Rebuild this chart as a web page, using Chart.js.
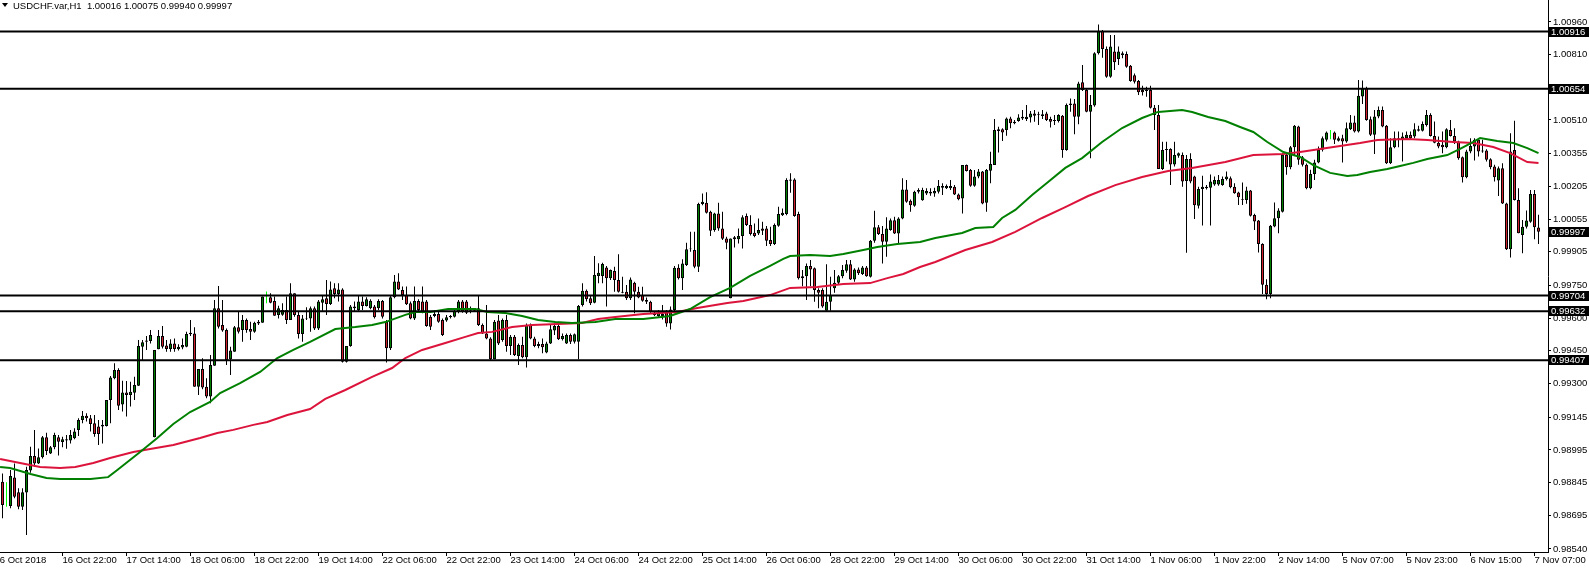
<!DOCTYPE html>
<html>
<head>
<meta charset="utf-8">
<title>USDCHF.var,H1</title>
<script src="https://cdn.jsdelivr.net/npm/chart.js@4.4.0/dist/chart.umd.min.js"></script>
<style>
  html, body { margin: 0; padding: 0; background: #fff; overflow: hidden; }
  #wrap { position: absolute; left: -6px; top: 0; width: 1595px; height: 569px; }
</style>
</head>
<body>
<div id="wrap"><canvas id="chart" width="1595" height="569"></canvas></div>
<script>
(function () {
	'use strict';

	var FONT = "'Liberation Sans', Arial, sans-serif";
	var SHIFT = 6; // canvas starts 6px left of the page

	var symbolInfo = 'USDCHF.var,H1  1.00016 1.00075 0.99940 0.99997';

	// hourly candles, 16 Oct 07:00 .. 7 Nov 08:00
	var opens = [
		0.98849,0.98742,0.98737,0.98868,0.98800,0.98734,0.98799,0.98900,0.98967,0.98933,
		0.98961,0.99053,0.98979,0.99007,0.99053,0.99031,0.99038,0.99038,0.99048,0.99086,
		0.99132,0.99152,0.99140,0.99117,0.99102,0.99102,0.99105,0.99224,0.99324,0.99362,
		0.99204,0.99259,0.99247,0.99258,0.99290,0.99469,0.99492,0.99495,0.99053,0.99457,
		0.99518,0.99474,0.99458,0.99484,0.99457,0.99465,0.99469,0.99526,0.99530,0.99285,
		0.99367,0.99285,0.99240,0.99382,0.99645,0.99569,0.99546,0.99411,0.99446,0.99558,
		0.99546,0.99592,0.99550,0.99538,0.99576,0.99579,0.99699,0.99696,0.99679,0.99615,
		0.99616,0.99637,0.99592,0.99714,0.99615,0.99527,0.99598,0.99599,0.99645,0.99553,
		0.99671,0.99691,0.99665,0.99737,0.99711,0.99732,0.99400,0.99472,0.99645,0.99638,
		0.99676,0.99656,0.99645,0.99653,0.99645,0.99679,0.99584,0.99462,0.99696,0.99768,
		0.99729,0.99706,0.99668,0.99599,0.99679,0.99676,0.99676,0.99607,0.99610,0.99619,
		0.99592,0.99589,0.99604,0.99607,0.99630,0.99676,0.99676,0.99634,0.99634,0.99645,
		0.99569,0.99530,0.99507,0.99411,0.99589,0.99500,0.99592,0.99472,0.99515,0.99426,
		0.99477,0.99420,0.99569,0.99507,0.99472,0.99481,0.99442,0.99484,0.99543,0.99564,
		0.99503,0.99484,0.99523,0.99492,0.99492,0.99661,0.99726,0.99691,0.99671,0.99794,
		0.99794,0.99833,0.99783,0.99816,0.99775,0.99721,0.99721,0.99691,0.99763,0.99721,
		0.99706,0.99683,0.99675,0.99614,0.99610,0.99610,0.99630,0.99576,0.99637,0.99832,
		0.99783,0.99844,0.99916,0.99913,0.99836,1.00124,1.00130,1.00089,1.00005,1.00081,
		1.00012,0.99966,0.99691,0.99962,0.99962,0.99977,1.00069,1.00028,0.99992,0.99989,
		1.00012,1.00012,0.99959,0.99940,1.00024,1.00073,1.00078,1.00231,1.00237,1.00078,
		0.99793,0.99793,0.99839,0.99829,0.99729,0.99729,0.99634,0.99675,0.99737,0.99763,
		0.99793,0.99818,0.99848,0.99778,0.99824,0.99803,0.99833,0.99790,0.99956,1.00017,
		0.99986,0.99951,1.00005,1.00050,0.99989,1.00058,1.00191,1.00139,1.00116,1.00181,
		1.00142,1.00173,1.00173,1.00173,1.00181,1.00199,1.00196,1.00196,1.00204,1.00168,
		1.00150,1.00303,1.00280,1.00208,1.00250,1.00273,1.00130,1.00277,1.00303,1.00459,
		1.00467,1.00464,1.00517,1.00502,1.00505,1.00517,1.00514,1.00522,1.00540,1.00536,
		1.00536,1.00540,1.00514,1.00510,1.00505,1.00530,1.00372,1.00579,1.00586,1.00525,
		1.00683,1.00648,1.00548,1.00576,1.00816,1.00919,1.00836,1.00709,1.00824,1.00790,
		1.00808,1.00813,1.00759,1.00716,1.00689,1.00648,1.00643,1.00648,1.00566,1.00533,
		1.00285,1.00372,1.00377,1.00306,1.00346,1.00349,1.00230,1.00331,1.00250,1.00116,
		1.00193,1.00196,1.00199,1.00214,1.00214,1.00211,1.00238,1.00243,1.00204,1.00177,
		1.00143,1.00143,1.00186,1.00074,1.00048,0.99941,0.99753,0.99711,1.00021,1.00059,
		1.00089,1.00350,1.00293,1.00385,1.00480,1.00339,1.00304,1.00197,1.00262,1.00315,
		1.00373,1.00419,1.00442,1.00452,1.00415,1.00426,1.00411,1.00468,1.00498,1.00457,
		1.00618,1.00656,1.00513,1.00442,1.00526,1.00556,1.00483,1.00311,1.00385,1.00419,
		1.00419,1.00426,1.00442,1.00434,1.00461,1.00461,1.00487,1.00533,1.00437,1.00406,
		1.00396,1.00385,1.00464,1.00437,1.00411,1.00339,1.00247,1.00365,1.00388,1.00419,
		1.00365,1.00370,1.00330,1.00296,1.00232,1.00288,1.00127,0.99916,1.00372,1.00143,
		0.99982,1.00020,1.00043,1.00170,1.00016
	];
	var highs = [
		0.98887,0.98846,0.98903,0.98933,0.98819,0.98819,0.98918,0.99010,0.99086,0.99001,
		0.99059,0.99074,0.99013,0.99074,0.99063,0.99056,0.99063,0.99086,0.99094,0.99140,
		0.99174,0.99163,0.99155,0.99155,0.99132,0.99132,0.99224,0.99334,0.99393,0.99370,
		0.99313,0.99311,0.99308,0.99331,0.99500,0.99500,0.99518,0.99546,0.99454,0.99546,
		0.99564,0.99500,0.99503,0.99507,0.99480,0.99507,0.99538,0.99592,0.99558,0.99367,
		0.99416,0.99324,0.99431,0.99683,0.99748,0.99683,0.99553,0.99469,0.99564,0.99630,
		0.99615,0.99599,0.99584,0.99584,0.99592,0.99699,0.99722,0.99714,0.99699,0.99657,
		0.99668,0.99699,0.99760,0.99714,0.99630,0.99615,0.99650,0.99653,0.99653,0.99683,
		0.99706,0.99775,0.99768,0.99760,0.99760,0.99737,0.99472,0.99661,0.99676,0.99706,
		0.99699,0.99696,0.99687,0.99661,0.99687,0.99683,0.99592,0.99706,0.99798,0.99806,
		0.99745,0.99745,0.99676,0.99745,0.99687,0.99745,0.99683,0.99615,0.99638,0.99630,
		0.99599,0.99615,0.99615,0.99645,0.99683,0.99683,0.99683,0.99653,0.99645,0.99706,
		0.99576,0.99661,0.99512,0.99592,0.99615,0.99599,0.99615,0.99523,0.99523,0.99484,
		0.99515,0.99576,0.99576,0.99515,0.99492,0.99507,0.99492,0.99569,0.99576,0.99584,
		0.99530,0.99530,0.99530,0.99530,0.99661,0.99760,0.99732,0.99706,0.99886,0.99852,
		0.99855,0.99840,0.99824,0.99836,0.99893,0.99790,0.99752,0.99787,0.99767,0.99744,
		0.99744,0.99695,0.99680,0.99630,0.99637,0.99660,0.99637,0.99653,0.99839,0.99848,
		0.99870,0.99946,0.99997,0.99997,1.00130,1.00173,1.00178,1.00093,1.00084,1.00130,
		1.00089,0.99974,0.99966,0.99977,1.00012,1.00073,1.00081,1.00073,1.00035,1.00058,
		1.00043,1.00023,1.00020,1.00035,1.00112,1.00104,1.00242,1.00265,1.00242,1.00089,
		0.99821,0.99851,0.99867,0.99833,0.99737,0.99737,0.99848,0.99790,0.99821,0.99798,
		0.99844,0.99867,0.99867,0.99829,0.99833,0.99839,0.99839,0.99959,1.00093,1.00028,
		1.00023,1.00063,1.00058,1.00066,1.00063,1.00242,1.00234,1.00145,1.00185,1.00196,
		1.00199,1.00196,1.00196,1.00199,1.00234,1.00219,1.00214,1.00234,1.00211,1.00173,
		1.00303,1.00306,1.00285,1.00280,1.00285,1.00276,1.00285,1.00364,1.00514,1.00479,
		1.00472,1.00521,1.00525,1.00510,1.00536,1.00556,1.00579,1.00551,1.00556,1.00548,
		1.00556,1.00548,1.00525,1.00533,1.00536,1.00533,1.00586,1.00609,1.00606,1.00686,
		1.00762,1.00652,1.00625,1.00821,1.00949,1.00923,1.00847,1.00900,1.00900,1.00847,
		1.00824,1.00824,1.00762,1.00724,1.00694,1.00667,1.00663,1.00667,1.00579,1.00579,
		1.00410,1.00410,1.00380,1.00410,1.00361,1.00361,1.00349,1.00357,1.00254,1.00204,
		1.00254,1.00211,1.00260,1.00250,1.00257,1.00250,1.00273,1.00250,1.00220,1.00181,
		1.00223,1.00204,1.00189,1.00079,1.00051,0.99944,0.99779,1.00028,1.00131,1.00105,
		1.00357,1.00360,1.00391,1.00487,1.00483,1.00345,1.00310,1.00281,1.00327,1.00388,
		1.00434,1.00457,1.00464,1.00457,1.00434,1.00442,1.00498,1.00533,1.00529,1.00694,
		1.00691,1.00663,1.00526,1.00556,1.00572,1.00572,1.00487,1.00426,1.00457,1.00457,
		1.00452,1.00457,1.00457,1.00495,1.00483,1.00503,1.00556,1.00541,1.00503,1.00434,
		1.00457,1.00472,1.00510,1.00472,1.00415,1.00342,1.00373,1.00426,1.00426,1.00426,
		1.00419,1.00376,1.00334,1.00304,1.00296,1.00311,1.00130,1.00449,1.00507,1.00196,
		1.00051,1.00094,1.00189,1.00189,1.00075
	];
	var lows = [
		0.98681,0.98734,0.98727,0.98773,0.98722,0.98719,0.98604,0.98890,0.98918,0.98930,
		0.98956,0.98972,0.98976,0.98998,0.98969,0.99007,0.99000,0.99025,0.99044,0.99059,
		0.99117,0.99125,0.99079,0.99056,0.99018,0.99025,0.99102,0.99117,0.99319,0.99178,
		0.99171,0.99148,0.99194,0.99224,0.99289,0.99408,0.99454,0.99484,0.99053,0.99457,
		0.99461,0.99446,0.99446,0.99446,0.99451,0.99457,0.99466,0.99518,0.99285,0.99247,
		0.99273,0.99232,0.99209,0.99382,0.99553,0.99538,0.99385,0.99339,0.99446,0.99530,
		0.99492,0.99533,0.99500,0.99533,0.99569,0.99579,0.99668,0.99668,0.99611,0.99599,
		0.99611,0.99573,0.99592,0.99607,0.99507,0.99492,0.99592,0.99538,0.99546,0.99546,
		0.99630,0.99615,0.99661,0.99691,0.99676,0.99396,0.99396,0.99469,0.99630,0.99630,
		0.99638,0.99653,0.99641,0.99599,0.99638,0.99599,0.99396,0.99454,0.99691,0.99729,
		0.99683,0.99661,0.99595,0.99592,0.99630,0.99622,0.99561,0.99546,0.99604,0.99579,
		0.99518,0.99584,0.99599,0.99603,0.99622,0.99625,0.99619,0.99622,0.99630,0.99564,
		0.99527,0.99503,0.99408,0.99411,0.99477,0.99492,0.99446,0.99431,0.99426,0.99385,
		0.99416,0.99374,0.99503,0.99466,0.99462,0.99439,0.99439,0.99481,0.99523,0.99500,
		0.99497,0.99481,0.99481,0.99484,0.99411,0.99653,0.99676,0.99661,0.99668,0.99760,
		0.99760,0.99653,0.99775,0.99721,0.99718,0.99714,0.99683,0.99683,0.99622,0.99691,
		0.99675,0.99665,0.99625,0.99610,0.99607,0.99594,0.99561,0.99548,0.99622,0.99778,
		0.99729,0.99839,0.99905,0.99829,0.99812,1.00119,1.00081,0.99977,0.99997,1.00001,
		0.99959,0.99916,0.99691,0.99925,0.99943,0.99920,1.00023,0.99980,0.99971,0.99982,
		0.99982,0.99931,0.99931,0.99936,1.00020,1.00069,1.00073,1.00176,1.00066,0.99778,
		0.99747,0.99683,0.99747,0.99675,0.99645,0.99648,0.99630,0.99634,0.99717,0.99757,
		0.99783,0.99809,0.99775,0.99767,0.99798,0.99798,0.99790,0.99787,0.99946,0.99982,
		0.99851,0.99882,1.00001,0.99986,0.99943,1.00054,1.00130,1.00089,1.00112,1.00173,
		1.00139,1.00165,1.00162,1.00158,1.00173,1.00165,1.00193,1.00188,1.00165,1.00142,
		1.00081,1.00273,1.00204,1.00204,1.00242,1.00123,1.00089,1.00219,1.00303,1.00361,
		1.00413,1.00438,1.00472,1.00490,1.00502,1.00510,1.00505,1.00499,1.00502,1.00487,
		1.00514,1.00505,1.00475,1.00487,1.00499,1.00337,1.00369,1.00548,1.00444,1.00490,
		1.00643,1.00545,1.00334,1.00571,1.00811,1.00796,1.00704,1.00704,1.00739,1.00762,
		1.00793,1.00750,1.00686,1.00678,1.00625,1.00622,1.00617,1.00563,1.00464,1.00285,
		1.00280,1.00319,1.00211,1.00296,1.00337,1.00204,0.99900,1.00219,1.00055,1.00104,
		1.00025,1.00191,1.00025,1.00208,1.00208,1.00208,1.00232,1.00197,1.00171,1.00120,
		1.00120,1.00125,1.00067,1.00005,0.99901,0.99711,0.99687,0.99691,1.00018,0.99990,
		1.00085,1.00258,1.00284,1.00345,1.00304,1.00296,1.00192,1.00192,1.00235,1.00311,
		1.00365,1.00411,1.00422,1.00400,1.00411,1.00315,1.00406,1.00464,1.00452,1.00452,
		1.00584,1.00507,1.00437,1.00354,1.00518,1.00477,1.00308,1.00308,1.00380,1.00385,
		1.00319,1.00422,1.00422,1.00426,1.00457,1.00457,1.00480,1.00434,1.00403,1.00380,
		1.00357,1.00380,1.00434,1.00400,1.00327,1.00223,1.00243,1.00357,1.00324,1.00342,
		1.00360,1.00319,1.00284,1.00227,1.00161,1.00124,0.99913,0.99879,1.00140,0.99990,
		0.99898,1.00012,1.00038,0.99962,0.99940
	];
	var closes = [
		0.98742,0.98742,0.98875,0.98780,0.98734,0.98800,0.98903,0.98967,0.98933,0.98961,
		0.99053,0.98990,0.99007,0.99063,0.99033,0.99044,0.99044,0.99063,0.99079,0.99132,
		0.99152,0.99140,0.99114,0.99068,0.99068,0.99110,0.99224,0.99327,0.99362,0.99198,
		0.99259,0.99247,0.99262,0.99293,0.99472,0.99489,0.99497,0.99523,0.99454,0.99518,
		0.99469,0.99458,0.99484,0.99458,0.99469,0.99477,0.99527,0.99533,0.99285,0.99367,
		0.99282,0.99240,0.99385,0.99645,0.99561,0.99543,0.99408,0.99451,0.99558,0.99538,
		0.99592,0.99546,0.99538,0.99579,0.99584,0.99699,0.99699,0.99671,0.99611,0.99645,
		0.99637,0.99592,0.99714,0.99615,0.99527,0.99599,0.99601,0.99645,0.99553,0.99676,
		0.99687,0.99665,0.99732,0.99711,0.99732,0.99400,0.99472,0.99653,0.99653,0.99676,
		0.99656,0.99687,0.99680,0.99604,0.99679,0.99607,0.99462,0.99696,0.99768,0.99732,
		0.99706,0.99664,0.99599,0.99679,0.99638,0.99630,0.99564,0.99561,0.99619,0.99584,
		0.99523,0.99604,0.99610,0.99634,0.99676,0.99630,0.99625,0.99641,0.99641,0.99569,
		0.99530,0.99507,0.99411,0.99584,0.99484,0.99592,0.99472,0.99515,0.99431,0.99477,
		0.99420,0.99569,0.99507,0.99472,0.99481,0.99466,0.99484,0.99549,0.99564,0.99503,
		0.99518,0.99523,0.99492,0.99526,0.99656,0.99726,0.99687,0.99668,0.99798,0.99809,
		0.99849,0.99783,0.99821,0.99775,0.99721,0.99717,0.99691,0.99778,0.99721,0.99695,
		0.99680,0.99675,0.99630,0.99625,0.99625,0.99619,0.99576,0.99640,0.99832,0.99783,
		0.99851,0.99916,0.99920,0.99836,1.00124,1.00135,1.00084,1.00001,1.00081,1.00012,
		0.99965,0.99946,0.99966,0.99971,0.99977,1.00063,1.00028,0.99986,0.99977,1.00005,
		1.00001,0.99956,0.99940,1.00028,1.00078,1.00084,1.00234,1.00237,1.00069,0.99783,
		0.99783,0.99839,0.99824,0.99729,0.99717,0.99653,0.99675,0.99706,0.99763,0.99793,
		0.99821,0.99848,0.99778,0.99824,0.99806,0.99833,0.99793,0.99956,1.00017,0.99986,
		0.99951,1.00012,1.00050,0.99989,1.00058,1.00191,1.00135,1.00119,1.00181,1.00188,
		1.00188,1.00184,1.00181,1.00184,1.00207,1.00207,1.00207,1.00207,1.00168,1.00146,
		1.00303,1.00276,1.00208,1.00250,1.00273,1.00127,1.00280,1.00308,1.00464,1.00467,
		1.00453,1.00517,1.00495,1.00495,1.00521,1.00525,1.00525,1.00540,1.00530,1.00533,
		1.00528,1.00510,1.00502,1.00505,1.00533,1.00372,1.00579,1.00586,1.00525,1.00678,
		1.00648,1.00548,1.00579,1.00816,1.00919,1.00836,1.00709,1.00847,1.00775,1.00824,
		1.00816,1.00755,1.00689,1.00686,1.00637,1.00637,1.00648,1.00566,1.00533,1.00285,
		1.00372,1.00377,1.00306,1.00349,1.00357,1.00227,1.00331,1.00227,1.00119,1.00193,
		1.00204,1.00204,1.00227,1.00234,1.00234,1.00239,1.00250,1.00201,1.00174,1.00155,
		1.00146,1.00186,1.00070,1.00044,0.99941,0.99753,0.99711,1.00024,1.00059,1.00094,
		1.00350,1.00293,1.00385,1.00483,1.00327,1.00304,1.00197,1.00262,1.00315,1.00373,
		1.00426,1.00452,1.00442,1.00419,1.00426,1.00411,1.00472,1.00498,1.00457,1.00621,
		1.00656,1.00510,1.00442,1.00526,1.00556,1.00480,1.00311,1.00385,1.00426,1.00426,
		1.00434,1.00442,1.00426,1.00468,1.00468,1.00492,1.00533,1.00437,1.00406,1.00388,
		1.00385,1.00468,1.00437,1.00411,1.00334,1.00247,1.00365,1.00391,1.00419,1.00365,
		1.00370,1.00327,1.00293,1.00247,1.00288,1.00127,0.99916,1.00365,1.00143,0.99990,
		1.00020,1.00048,1.00170,1.00017,0.99997
	];

	// moving averages at bar positions
	var greenMaBar = [-0.6,1.9,7,11,14.4,22,26.4,28.7,34.4,38.7,42.7,46.9,51.9,54.4,59.4,64.4,68.7,72.7,76.9,83.2,
		88.2,92.4,95.7,100.7,103.2,107,111.4,118.2,121.2,125.7,129.9,133.9,138.2,142.4,148.2,153.2,160.2,166.9,171.9,176.9,
		181.9,186.9,191.9,195.2,196.9,201.9,206.9,210.2,215.2,218.7,223.7,229.4,233.2,239.9,243.2,247.7,249.9,253.2,257.4,261.4,
		265.7,269.9,274.9,279.9,284.9,288.9,294.9,297.4,301.4,305.7,309.4,312.7,316.2,320.2,324.4,327.7,331.9,336.2,338.7,341.9,
		346.2,349.4,352.7,356.2,361.2,364.4,367.7,369.4,373.7,377.7,381.2,384];
	var greenMa = [0.98917,0.98912,0.98884,0.98866,0.98861,0.98861,0.98870,0.98903,0.98985,0.99050,0.99114,0.99169,0.99215,0.99256,0.99302,0.99353,0.99417,0.99454,0.99491,0.99550,
		0.99559,0.99569,0.99582,0.99615,0.99628,0.99628,0.99642,0.99642,0.99628,0.99624,0.99610,0.99592,0.99582,0.99578,0.99582,0.99596,0.99596,0.99610,0.99642,0.99697,
		0.99739,0.99794,0.99840,0.99872,0.99885,0.99890,0.99885,0.99895,0.99913,0.99927,0.99941,0.99950,0.99968,0.99991,1.00014,1.00019,1.00060,1.00097,1.00166,1.00225,
		1.00290,1.00335,1.00409,1.00473,1.00519,1.00547,1.00556,1.00547,1.00524,1.00505,1.00478,1.00455,1.00409,1.00363,1.00340,1.00303,1.00267,1.00253,1.00257,1.00271,
		1.00285,1.00299,1.00313,1.00331,1.00349,1.00377,1.00409,1.00427,1.00414,1.00404,1.00381,1.00358];
	var redMaBar = [-0.6,4.4,9.4,14.4,18.2,22.7,26.9,32.7,36.9,42.7,49.4,53.7,57.7,62.7,66.2,71.2,76.9,80.7,85.7,92.4,
		97.4,100.7,104.9,110.7,115.7,118.9,122.4,127.4,132.4,138.9,144.9,148.9,153.2,160.2,168.7,173.7,181.2,185.2,191.9,196.9,
		203.7,210.2,216.9,221.2,225.2,229.4,233.2,240.7,247.4,253.2,259.9,265.7,271.4,278.2,284.9,291.4,297.4,305.7,312.7,320.2,
		324.4,329.4,334.4,339.4,343.7,351.2,356.2,362.7,367.7,372.7,376.9,381.2,384];
	var redMa = [0.98953,0.98935,0.98917,0.98912,0.98917,0.98935,0.98958,0.98985,0.98999,0.99018,0.99050,0.99073,0.99087,0.99110,0.99123,0.99155,0.99183,0.99229,0.99270,0.99330,
		0.99371,0.99417,0.99454,0.99486,0.99514,0.99532,0.99537,0.99559,0.99569,0.99573,0.99578,0.99596,0.99605,0.99619,0.99628,0.99647,0.99670,0.99679,0.99706,0.99739,
		0.99743,0.99757,0.99761,0.99784,0.99803,0.99835,0.99858,0.99913,0.99950,0.99996,1.00060,1.00110,1.00161,1.00211,1.00248,1.00276,1.00290,1.00317,1.00349,1.00354,
		1.00363,1.00377,1.00391,1.00404,1.00418,1.00423,1.00418,1.00409,1.00404,1.00386,1.00358,1.00317,1.00313];

	var levels = [1.00916, 1.00654, 0.99704, 0.99632, 0.99407];
	var lastPrice = 0.99997;

	var yTicks = [1.00960, 1.00810, 1.00660, 1.00510, 1.00355, 1.00205, 1.00055, 0.99905, 0.99750,
		0.99600, 0.99450, 0.99300, 0.99145, 0.98995, 0.98845, 0.98695, 0.98540];
	var xTickBars = [-2, 15, 31, 47, 63, 79, 95, 111, 127, 143, 159, 175, 191, 207, 223, 239, 255, 271, 287,
		303, 319, 335, 351, 367, 383];
	var xTickLabels = ['16 Oct 2018', '16 Oct 22:00', '17 Oct 14:00', '18 Oct 06:00', '18 Oct 22:00', '19 Oct 14:00',
		'22 Oct 06:00', '22 Oct 22:00', '23 Oct 14:00', '24 Oct 06:00', '24 Oct 22:00', '25 Oct 14:00', '26 Oct 06:00',
		'28 Oct 22:00', '29 Oct 14:00', '30 Oct 06:00', '30 Oct 22:00', '31 Oct 14:00', '1 Nov 06:00', '1 Nov 22:00',
		'2 Nov 14:00', '5 Nov 07:00', '5 Nov 23:00', '6 Nov 15:00', '7 Nov 07:00'];

	var xMin = -2.125, xMax = 386.375;
	var yMin = 0.985262, yMax = 1.01061;

	var BULL = '#008000', BEAR = '#d0202e', DOJI = '#00ff00';

	var wicks = [], bodies = [], bodyColors = [], bodyBorders = [], wickColors = [];
	for (var i = 0; i < closes.length; i++) {
		wicks.push({x: i, y: [lows[i], highs[i]]});
		bodies.push({x: i, y: [opens[i], closes[i]]});
		if (closes[i] > opens[i]) {
			bodyColors.push(BULL); bodyBorders.push('#000'); wickColors.push('#000');
		} else if (closes[i] < opens[i]) {
			bodyColors.push(BEAR); bodyBorders.push('#000'); wickColors.push('#000');
		} else {
			bodyColors.push(DOJI); bodyBorders.push(DOJI); wickColors.push(DOJI);
		}
	}

	function points(bars, vals) {
		return bars.map(function (b, k) { return {x: b, y: vals[k]}; });
	}

	var datasets = [
		{type: 'bar', data: wicks, backgroundColor: wickColors, borderWidth: 0, barThickness: 1,
			grouped: false, inflateAmount: 0, order: 4},
		{type: 'bar', data: bodies, backgroundColor: bodyColors, borderColor: bodyBorders, borderWidth: 1,
			borderSkipped: false, barThickness: 3, grouped: false, inflateAmount: 0, order: 3},
		{type: 'line', data: points(redMaBar, redMa), borderColor: '#dc143c', borderWidth: 2,
			pointRadius: 0, tension: 0, order: 2},
		{type: 'line', data: points(greenMaBar, greenMa), borderColor: '#008000', borderWidth: 2,
			pointRadius: 0, tension: 0, order: 1}
	];
	levels.forEach(function (v) {
		datasets.push({type: 'line', data: [{x: xMin, y: v}, {x: xMax, y: v}], borderColor: '#000',
			borderWidth: 2, pointRadius: 0, order: 0});
	});

	var overlay = {
		id: 'overlay',
		afterDraw: function (chart) {
			var ctx = chart.ctx, ys = chart.scales.y;
			ctx.save();
			ctx.font = '9.5px ' + FONT;
			ctx.textBaseline = 'middle';
			levels.concat([lastPrice]).forEach(function (v) {
				var y = Math.round(ys.getPixelForValue(v));
				ctx.fillStyle = '#000';
				ctx.fillRect(ys.left + 1, y - 5, 41, 10);
				ctx.fillStyle = '#fff';
				ctx.fillText(v.toFixed(5), ys.left + 3, y + 0.5);
			});
			ctx.fillStyle = '#000';
			ctx.beginPath();
			ctx.moveTo(SHIFT + 2, 3);
			ctx.lineTo(SHIFT + 8, 3);
			ctx.lineTo(SHIFT + 5, 7);
			ctx.closePath();
			ctx.fill();
			ctx.textBaseline = 'alphabetic';
			ctx.fillText(symbolInfo, SHIFT + 13, 8.5);
			ctx.restore();
		}
	};

	var axisFont = {family: FONT, size: 9.5};

	function noPadding(s) {
		s.paddingTop = 0; s.paddingBottom = 0; s.paddingLeft = 0; s.paddingRight = 0;
	}

	new Chart(document.getElementById('chart'), {
		type: 'bar',
		data: {datasets: datasets},
		options: {
			responsive: false,
			devicePixelRatio: 1,
			animation: false,
			layout: {padding: 0, autoPadding: false},
			plugins: {legend: {display: false}, tooltip: {enabled: false}},
			scales: {
				x: {
					type: 'linear', position: 'bottom', min: xMin, max: xMax, offset: false, bounds: 'data',
					afterBuildTicks: function (s) { s.ticks = xTickBars.map(function (v) { return {value: v}; }); },
					afterFit: function (s) { s.height = 17; noPadding(s); },
					grid: {drawOnChartArea: false, drawTicks: true, tickLength: 4, color: '#000', offset: false},
					border: {display: true, color: '#000', width: 1},
					ticks: {
						autoSkip: false, maxRotation: 0, minRotation: 0, align: 'start', padding: -1,
						color: '#000', font: axisFont,
						callback: function (v, idx) { return xTickLabels[idx]; }
					}
				},
				y: {
					type: 'linear', position: 'right', min: yMin, max: yMax, bounds: 'data',
					afterBuildTicks: function (s) { s.ticks = yTicks.map(function (v) { return {value: v}; }); },
					afterFit: function (s) { s.width = 41; noPadding(s); },
					grid: {drawOnChartArea: false, drawTicks: true, tickLength: 3, color: '#000'},
					border: {display: true, color: '#000', width: 1},
					ticks: {
						padding: 2, color: '#000', font: axisFont,
						callback: function (v) { return v.toFixed(5); }
					}
				}
			}
		},
		plugins: [overlay]
	});
})();
</script>
</body>
</html>
